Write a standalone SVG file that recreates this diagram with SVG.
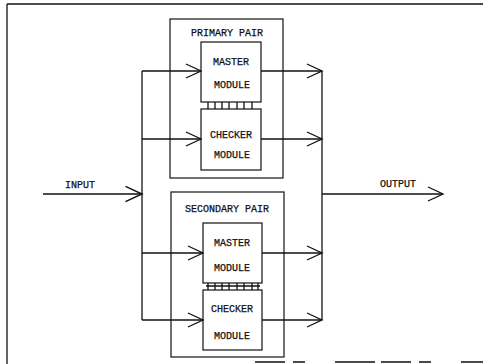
<svg xmlns="http://www.w3.org/2000/svg" width="483" height="364" viewBox="0 0 483 364">
<style>
.ln{stroke:#111;stroke-width:1.3;fill:none}
.bx{stroke:#111;stroke-width:1.2;fill:none}
.ah{stroke:#111;stroke-width:1.3;fill:none;stroke-linejoin:miter}
text{font-family:"Liberation Mono","DejaVu Sans Mono",monospace;font-size:10px;fill:#111;text-anchor:middle;stroke:#111;stroke-width:0.25}
</style>
<defs>
<path id="chev" d="M-15,-7 L0,0 L-15,7"/>
</defs>
<rect width="483" height="364" fill="#fff"/>
<g id="frame">
<line class="ln" x1="7" y1="4" x2="483" y2="4" stroke-width="2"/>
<line class="ln" x1="7" y1="4" x2="7" y2="364" stroke-width="2"/>
<line class="ln" x1="255" y1="362" x2="483" y2="362" stroke-width="1" stroke="#555" stroke-dasharray="30 8 12 30 40 6"/>
</g>
<g id="primary-pair">
<rect class="bx" x="170" y="19" width="113" height="159"/>
<text x="227" y="36">PRIMARY PAIR</text>
</g>
<g id="primary-master">
<rect class="bx" x="201" y="42" width="60" height="60"/>
<text x="231" y="65">MASTER</text>
<text x="232" y="88">MODULE</text>
</g>
<g id="primary-checker">
<rect class="bx" x="201" y="109" width="60" height="61"/>
<text x="231" y="138">CHECKER</text>
<text x="232" y="158">MODULE</text>
</g>
<g id="primary-link" class="ln">
<path d="M208,102V109M215,102V109M222,102V109M229,102V109M237,102V109M244,102V109M252,102V109"/>
</g>
<g id="secondary-pair">
<rect class="bx" x="171" y="192" width="113" height="165"/>
<text x="227" y="212">SECONDARY PAIR</text>
</g>
<g id="secondary-master">
<rect class="bx" x="203" y="223" width="59" height="60"/>
<text x="232" y="246">MASTER</text>
<text x="232" y="271">MODULE</text>
</g>
<g id="secondary-checker">
<rect class="bx" x="203" y="290" width="59" height="60"/>
<text x="232" y="312">CHECKER</text>
<text x="232" y="339">MODULE</text>
</g>
<g id="secondary-link" class="ln">
<path d="M206,286H260M208,283V290M215,283V290M222,283V290M229,283V290M237,283V290M244,283V290M252,283V290M258,283V290"/>
</g>
<g id="input-label"><text x="80" y="188">INPUT</text></g>
<g id="output-label"><text x="398" y="187">OUTPUT</text></g>
<g id="connectors">
<line class="ln" x1="43" y1="194" x2="142" y2="194"/>
<use href="#chev" class="ah" transform="translate(142,194) scale(1.1)"/>
<line class="ln" x1="142" y1="71" x2="142" y2="320"/>
<line class="ln" x1="142" y1="71" x2="201" y2="71"/>
<use href="#chev" class="ah" transform="translate(201,71)"/>
<line class="ln" x1="142" y1="139" x2="201" y2="139"/>
<use href="#chev" class="ah" transform="translate(201,139)"/>
<line class="ln" x1="142" y1="253" x2="203" y2="253"/>
<use href="#chev" class="ah" transform="translate(203,253)"/>
<line class="ln" x1="142" y1="320" x2="203" y2="320"/>
<use href="#chev" class="ah" transform="translate(203,320)"/>
<line class="ln" x1="261" y1="71" x2="322" y2="71"/>
<use href="#chev" class="ah" transform="translate(322,71)"/>
<line class="ln" x1="261" y1="139" x2="322" y2="139"/>
<use href="#chev" class="ah" transform="translate(322,139)"/>
<line class="ln" x1="262" y1="253" x2="322" y2="253"/>
<use href="#chev" class="ah" transform="translate(322,253)"/>
<line class="ln" x1="262" y1="320" x2="322" y2="320"/>
<use href="#chev" class="ah" transform="translate(322,320)"/>
<line class="ln" x1="322" y1="71" x2="322" y2="320"/>
<line class="ln" x1="322" y1="194" x2="443" y2="194"/>
<use href="#chev" class="ah" transform="translate(443,194)"/>
</g>
</svg>
